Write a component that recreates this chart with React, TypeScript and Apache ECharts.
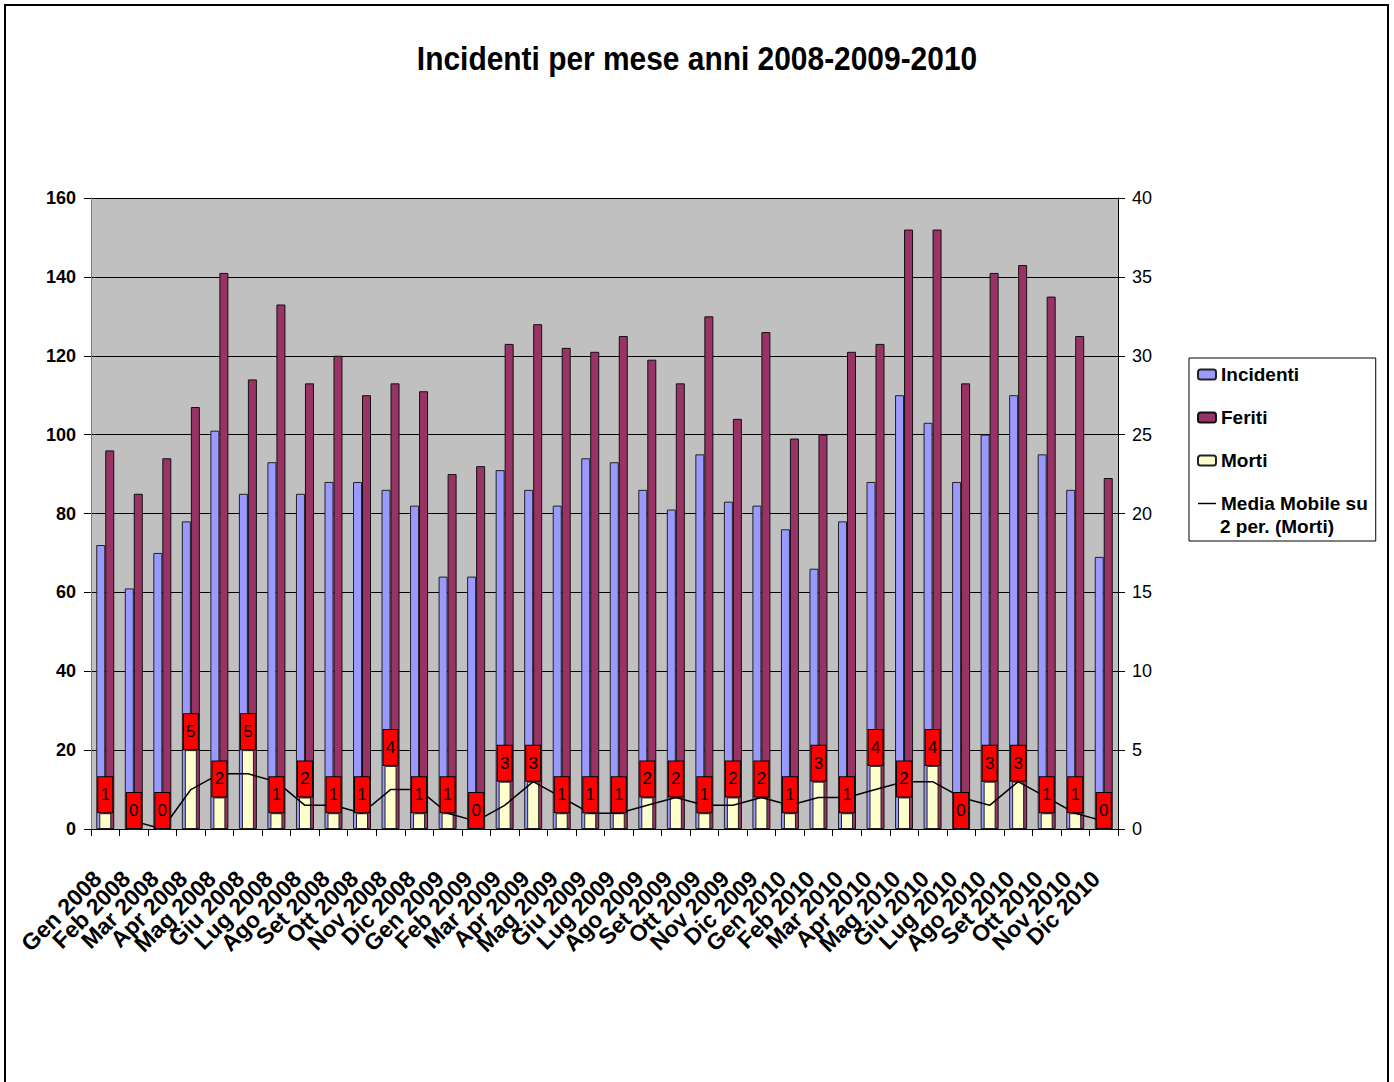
import React, { useEffect, useRef } from "react";
import * as echarts from "echarts";

const categories = [
  "Gen 2008", "Feb 2008", "Mar 2008", "Apr 2008", "Mag 2008", "Giu 2008",
  "Lug 2008", "Ago 2008", "Set 2008", "Ott 2008", "Nov 2008", "Dic 2008",
  "Gen 2009", "Feb 2009", "Mar 2009", "Apr 2009", "Mag 2009", "Giu 2009",
  "Lug 2009", "Ago 2009", "Set 2009", "Ott 2009", "Nov 2009", "Dic 2009",
  "Gen 2010", "Feb 2010", "Mar 2010", "Apr 2010", "Mag 2010", "Giu 2010",
  "Lug 2010", "Ago 2010", "Set 2010", "Ott 2010", "Nov 2010", "Dic 2010",
];

const incidenti = [
  72, 61, 70, 78, 101, 85, 93, 85, 88, 88, 86, 82,
  64, 64, 91, 86, 82, 94, 93, 86, 81, 95, 83, 82,
  76, 66, 78, 88, 110, 103, 88, 100, 110, 95, 86, 69,
];

const feriti = [
  96, 85, 94, 107, 141, 114, 133, 113, 120, 110, 113, 111,
  90, 92, 123, 128, 122, 121, 125, 119, 113, 130, 104, 126,
  99, 100, 121, 123, 152, 152, 113, 141, 143, 135, 125, 89,
];

const morti = [
  1, 0, 0, 5, 2, 5, 1, 2, 1, 1, 4, 1,
  1, 0, 3, 3, 1, 1, 1, 2, 2, 1, 2, 2,
  1, 3, 1, 4, 2, 4, 0, 3, 3, 1, 1, 0,
];

const mediaMobile = [
  null, 0.5, 0, 2.5, 3.5, 3.5, 3, 1.5, 1.5, 1, 2.5, 2.5,
  1, 0.5, 1.5, 3, 2, 1, 1, 1.5, 2, 1.5, 1.5, 2,
  1.5, 2, 2, 2.5, 3, 3, 2, 1.5, 3, 2, 1, 0.5,
];

const leftTicks = { min: 0, max: 160, interval: 20 };
const rightTicks = { min: 0, max: 40, interval: 5 };

const TITLE = "Incidenti per mese anni 2008-2009-2010";
const MEDIA_NAME = "Media Mobile su 2 per. (Morti)";

const FONT = "'Liberation Sans', Arial, Helvetica, sans-serif";

export default function App() {
  const ref = useRef<HTMLDivElement>(null);

  useEffect(() => {
    if (!ref.current) return;
    const chart = echarts.init(ref.current, null, { renderer: "svg" });
    const option: any = {
      animation: false,
      backgroundColor: "#ffffff",
      textStyle: { fontFamily: FONT },
      legend: {
        orient: "vertical",
        left: 1189,
        top: 358,
        padding: [4, 8, 25, 8],
        itemWidth: 18,
        itemHeight: 10,
        itemGap: 18,
        backgroundColor: "#fff",
        borderColor: "#000",
        borderWidth: 1,
        borderRadius: 0,
        selectedMode: false,
        data: [
          "Incidenti",
          "Feriti",
          "Morti",
          { name: MEDIA_NAME, icon: "path://M0,0 L20,0 L20,1.6 L0,1.6 Z" },
        ],
        formatter: (name: string) => (name === MEDIA_NAME ? "Media Mobile su" : name),
        textStyle: {
          fontFamily: FONT,
          fontWeight: "bold",
          fontSize: 19,
          lineHeight: 25,
          color: "#000",
        },
      },
      graphic: [
        {
          type: "rect",
          shape: { x: 5, y: 5, width: 1383, height: 1110 },
          style: { fill: "none", stroke: "#000", lineWidth: 2 },
          silent: true,
          z: 100,
        },
        {
          type: "text",
          x: 697,
          y: 58,
          scaleX: 0.88,
          style: {
            text: TITLE,
            textAlign: "center",
            textVerticalAlign: "middle",
            fontFamily: FONT,
            fontWeight: "bold",
            fontSize: 34,
            fill: "#000",
          },
          z: 100,
        },
        {
          type: "text",
          left: 1220,
          top: 517,
          style: {
            text: "2 per. (Morti)",
            fontFamily: FONT,
            fontWeight: "bold",
            fontSize: 19,
            fill: "#000",
          },
          z: 100,
        },
      ],
      grid: {
        left: 91,
        top: 198,
        width: 1027,
        height: 631,
        show: true,
        backgroundColor: "#C0C0C0",
        borderWidth: 0,
      },
      xAxis: [
        {
          type: "category",
          data: categories,
          gridIndex: 0,
          boundaryGap: true,
          axisLine: { show: true, lineStyle: { color: "#000", width: 1 } },
          axisTick: { show: true, length: 7, alignWithLabel: false, interval: 0, lineStyle: { color: "#000" } },
          axisLabel: {
            interval: 0,
            rotate: 45,
            margin: 38,
            padding: [0, 11, 0, 0],
            fontFamily: FONT,
            fontWeight: "bold",
            fontSize: 23,
            color: "#000",
          },
          splitLine: { show: false },
        },
        {
          type: "category",
          data: categories,
          gridIndex: 0,
          show: false,
        },
      ],
      yAxis: [
        {
          type: "value",
          position: "left",
          min: leftTicks.min,
          max: leftTicks.max,
          interval: leftTicks.interval,
          axisLine: { show: true, lineStyle: { color: "#808080", width: 1 } },
          axisTick: { show: true, length: 7, lineStyle: { color: "#000" } },
          axisLabel: {
            margin: 15,
            fontFamily: FONT,
            fontWeight: "bold",
            fontSize: 18,
            color: "#000",
          },
          splitLine: { show: true, lineStyle: { color: "#000", width: 1 } },
        },
        {
          type: "value",
          position: "right",
          min: rightTicks.min,
          max: rightTicks.max,
          interval: rightTicks.interval,
          axisLine: { show: true, lineStyle: { color: "#000", width: 1 } },
          axisTick: { show: true, length: 7, lineStyle: { color: "#000" } },
          axisLabel: {
            margin: 14,
            fontFamily: FONT,
            fontSize: 18,
            color: "#000",
          },
          splitLine: { show: false },
        },
      ],
      series: [
        {
          name: "Incidenti",
          type: "bar",
          xAxisIndex: 0,
          yAxisIndex: 0,
          barWidth: 9,
          barGap: "0%",
          data: incidenti,
          itemStyle: { color: "#9999FF", borderColor: "#222", borderWidth: 1 },
          z: 2,
        },
        {
          name: "Feriti",
          type: "bar",
          xAxisIndex: 0,
          yAxisIndex: 0,
          barWidth: 9,
          barGap: "0%",
          data: feriti,
          itemStyle: { color: "#993366", borderColor: "#111", borderWidth: 1 },
          z: 2,
        },
        {
          name: "Morti",
          type: "bar",
          xAxisIndex: 1,
          yAxisIndex: 1,
          barWidth: 12,
          barGap: "-100%",
          data: morti,
          itemStyle: { color: "#FFFFCC", borderColor: "#222", borderWidth: 1 },
          z: 3,
        },
        {
          name: MEDIA_NAME,
          type: "line",
          xAxisIndex: 0,
          yAxisIndex: 1,
          data: mediaMobile,
          symbol: "none",
          showSymbol: false,
          connectNulls: false,
          lineStyle: { color: "#000", width: 1.5 },
          itemStyle: { color: "#000" },
          z: 4,
        },
        {
          name: "MortiEtichette",
          type: "bar",
          xAxisIndex: 1,
          yAxisIndex: 1,
          barWidth: 12,
          barGap: "-100%",
          data: morti,
          itemStyle: { color: "rgba(0,0,0,0)", borderWidth: 0 },
          silent: true,
          z: 5,
          label: {
            show: true,
            position: "top",
            distance: 1,
            formatter: "{c}",
            fontFamily: FONT,
            fontSize: 17,
            color: "#000",
            backgroundColor: "#FF0000",
            borderColor: "#000",
            borderWidth: 1,
            width: 14,
            height: 35,
            lineHeight: 35,
            align: "center",
            padding: 0,
          },
        },
      ],
    };
    chart.setOption(option);
    return () => chart.dispose();
  }, []);

  return (
    <div
      ref={ref}
      style={{ position: "absolute", left: 0, top: 0, width: 1394, height: 1082 }}
    />
  );
}
